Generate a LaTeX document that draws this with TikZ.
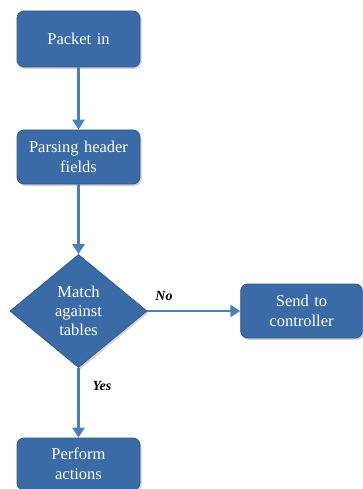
\documentclass[tikz,border=0pt]{standalone}
\usepackage{fontspec}
\setmainfont{Liberation Serif}
\usepackage{tikz}
\usetikzlibrary{shapes.geometric}
\usetikzlibrary{arrows.meta,shadows}
\usepackage{xcolor}
\definecolor{boxblue}{HTML}{3B6BA6}
\definecolor{boxedge}{HTML}{2E5A8E}
\definecolor{lineblue}{HTML}{4A7EC0}

\begin{document}
\begin{tikzpicture}[x=1pt,y=-1pt,
		stepbox/.style={draw=boxedge,line width=.8pt,fill=boxblue,rounded corners=7pt,
			minimum width=123pt,minimum height=56pt,text width=115pt,align=center,
			text=white,font=\fontsize{16.5}{20}\selectfont,
			drop shadow={shadow xshift=1.5pt,shadow yshift=-2pt,opacity=.35}},
		choice/.style={diamond,draw=boxedge,line width=.8pt,fill=boxblue,inner sep=0pt,
			minimum width=137pt,minimum height=113pt,align=center,
			text=white,font=\fontsize{16.5}{19}\selectfont,
			drop shadow={shadow xshift=1.5pt,shadow yshift=-2pt,opacity=.35}},
		flow/.style={draw=lineblue,line width=2.6pt,-{Triangle[width=12pt,length=10pt]}},
		tag/.style={font=\fontsize{14}{16}\selectfont\bfseries\itshape}]
		\useasboundingbox (0,0) rectangle (362,489);
		\node[stepbox] (packet) at (78.5,39) {Packet in};
		\node[stepbox,minimum height=54pt] (parse) at (78.5,157) {Parsing header\\fields};
		\node[choice] (match) at (78.5,311) {Match\\against\\tables};
		\node[stepbox,minimum width=121pt,minimum height=54pt] (send) at (301.5,311) {Send to\\controller};
		\node[stepbox,minimum height=52pt] (perform) at (78.5,464) {Perform\\actions};
		\draw[flow] (packet) to (parse);
		\draw[flow] (parse) to (match);
		\draw[flow] (match.east) to (send.west);
		\draw[flow] (match.south) to (perform.north);
		\node[tag] (no) at (164,296) {No};
		\node[tag] (yes) at (102,386) {Yes};
	\end{tikzpicture}
\end{document}
